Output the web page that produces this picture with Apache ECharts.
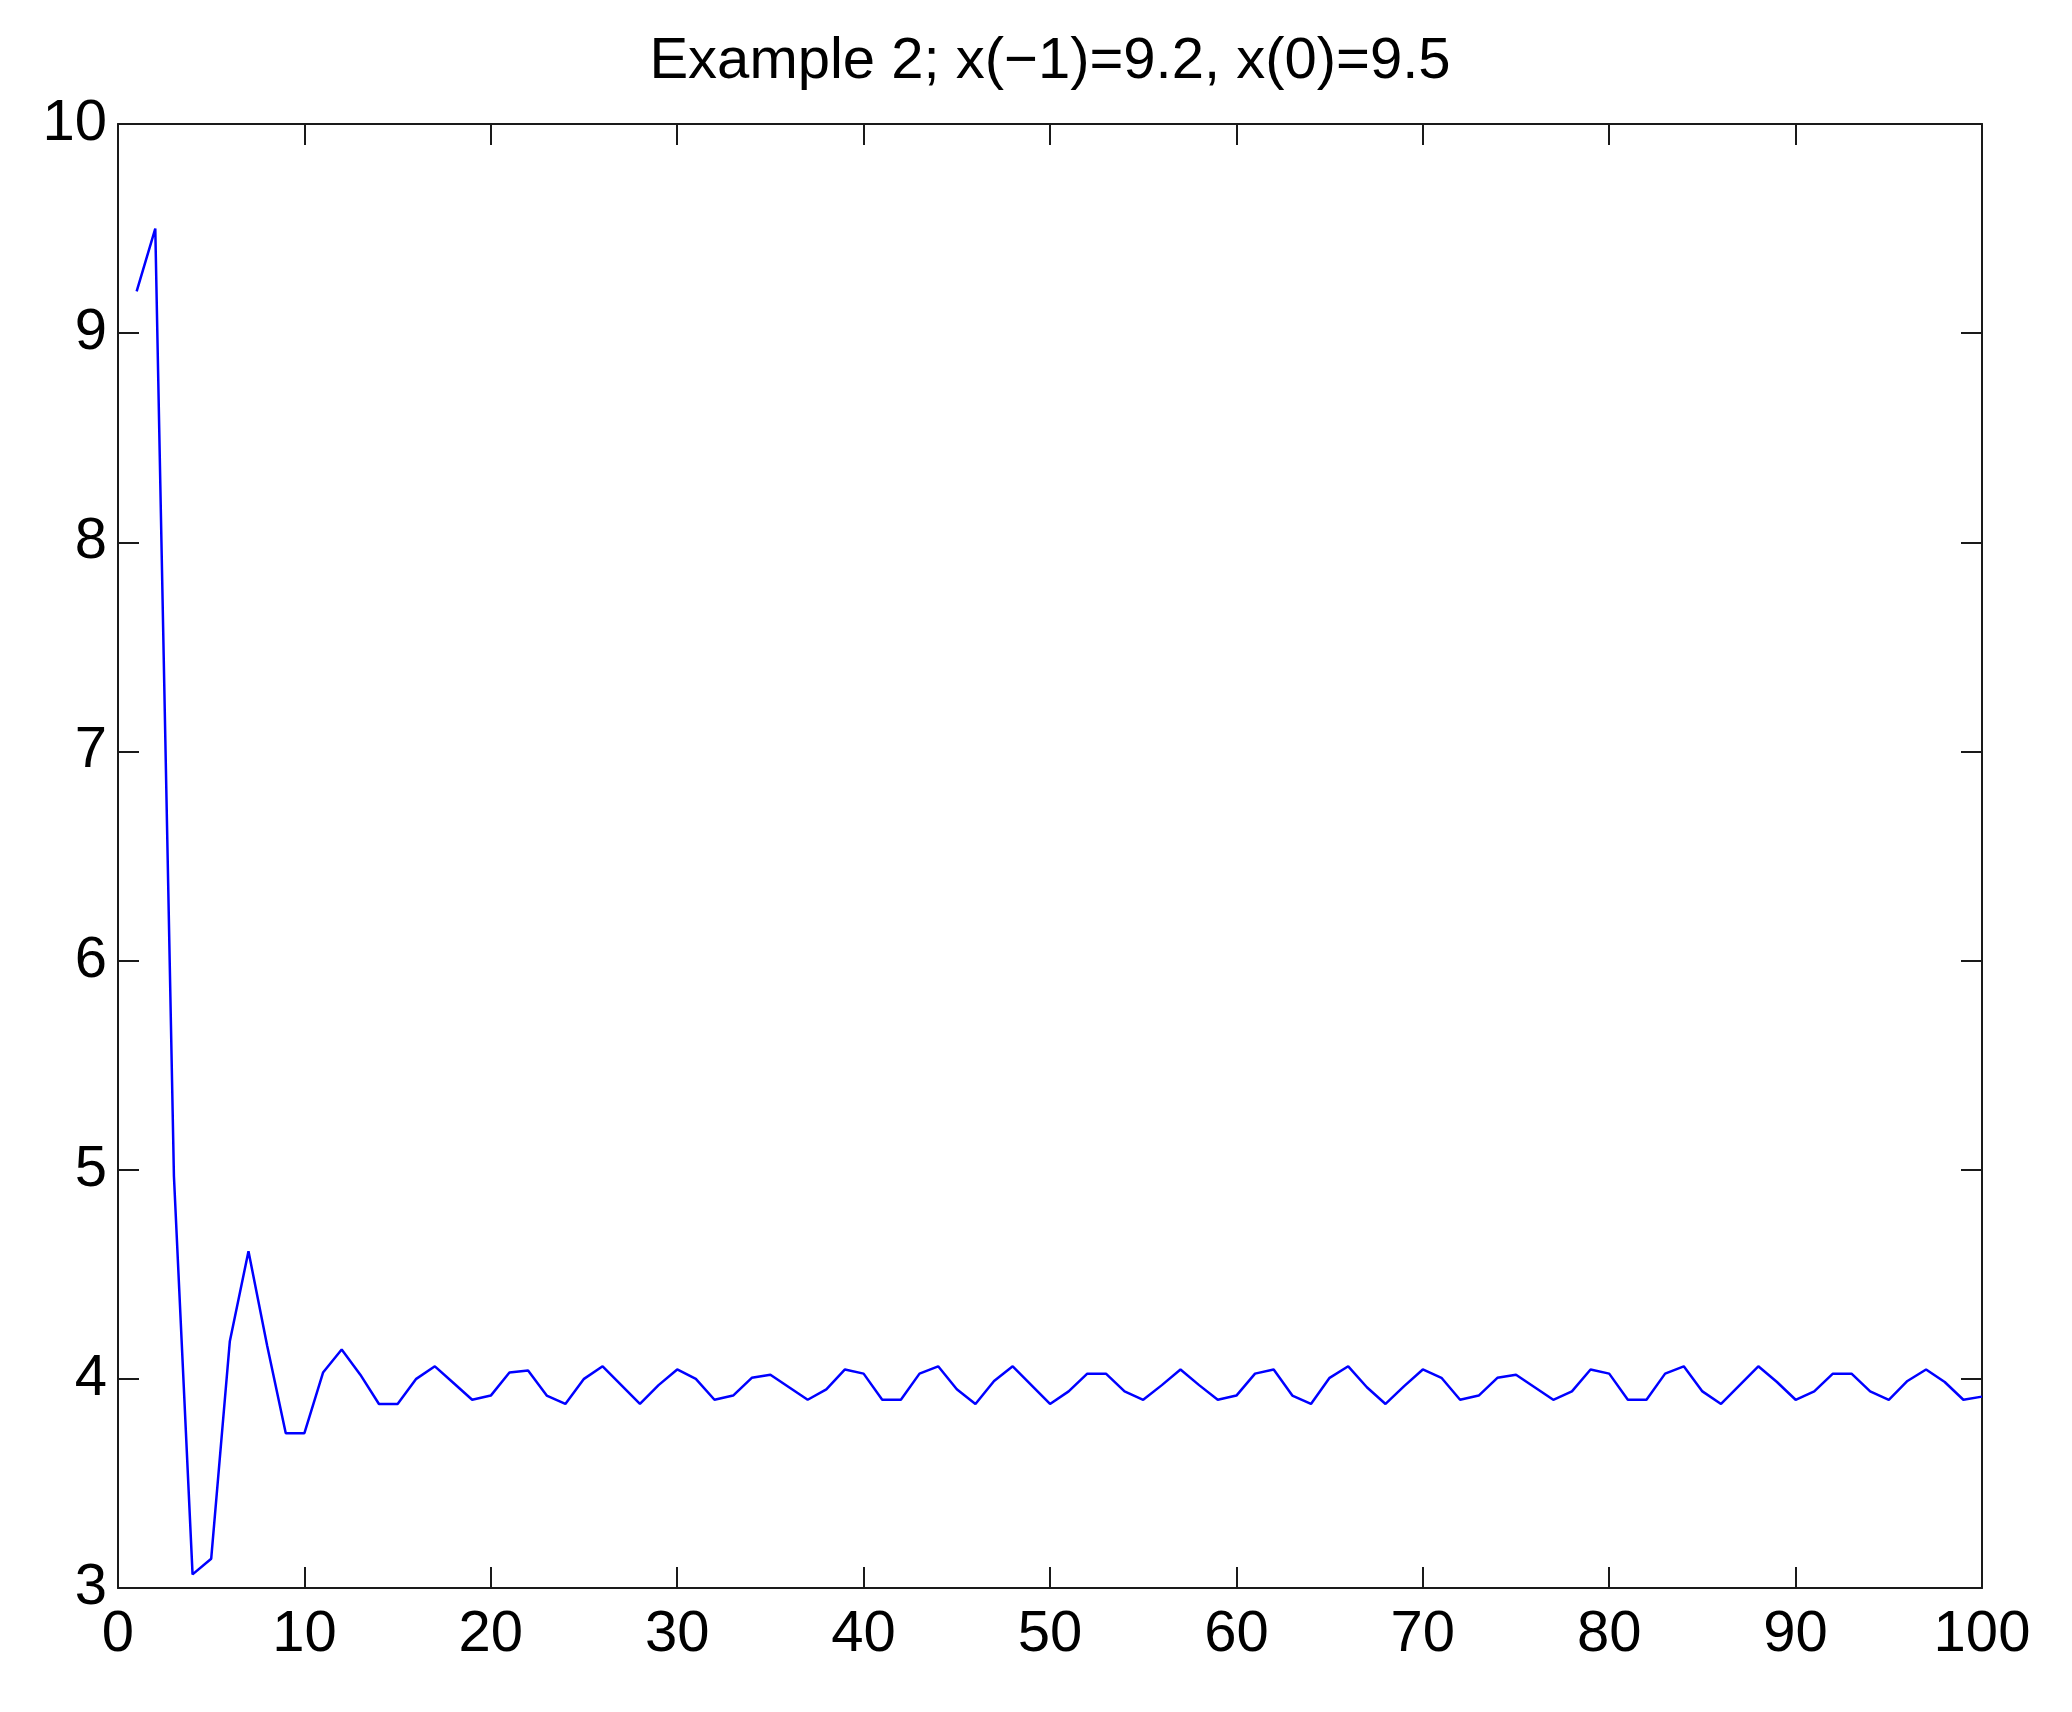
<!DOCTYPE html>
<html>
<head>
<meta charset="utf-8">
<script src="https://cdn.jsdelivr.net/npm/echarts@6/dist/echarts.min.js"></script>
<style>
  html, body { margin: 0; padding: 0; background: #ffffff; }
  #chart { width: 2072px; height: 1712px; }
</style>
</head>
<body>
<div id="chart"></div>
<script>
// ---- data ----
const chartTitle = 'Example 2; x(\u22121)=9.2, x(0)=9.5';
const steps = [1,2,3,4,5,6,7,8,9,10,11,12,13,14,15,16,17,18,19,20,
  21,22,23,24,25,26,27,28,29,30,31,32,33,34,35,36,37,38,39,40,
  41,42,43,44,45,46,47,48,49,50,51,52,53,54,55,56,57,58,59,60,
  61,62,63,64,65,66,67,68,69,70,71,72,73,74,75,76,77,78,79,80,
  81,82,83,84,85,86,87,88,89,90,91,92,93,94,95,96,97,98,99,100];
const values = [9.2, 9.5, 4.97, 3.065, 3.14, 4.18, 4.61, 4.16, 3.74, 3.74,
  4.03, 4.14, 4.02, 3.88, 3.88, 4.00, 4.06, 3.98, 3.90, 3.92,
  4.03, 4.04, 3.92, 3.88, 4.00, 4.06, 3.97, 3.88, 3.97, 4.045,
  4.00, 3.90, 3.92, 4.005, 4.02, 3.96, 3.90, 3.95, 4.045, 4.025,
  3.90, 3.90, 4.025, 4.06, 3.95, 3.88, 3.99, 4.06, 3.97, 3.88,
  3.94, 4.025, 4.025, 3.94, 3.90, 3.97, 4.045, 3.97, 3.90, 3.92,
  4.025, 4.045, 3.92, 3.88, 4.005, 4.06, 3.96, 3.88, 3.965, 4.045,
  4.005, 3.90, 3.92, 4.005, 4.02, 3.96, 3.90, 3.94, 4.045, 4.025,
  3.90, 3.90, 4.025, 4.06, 3.94, 3.88, 3.97, 4.06, 3.985, 3.90,
  3.94, 4.025, 4.025, 3.94, 3.90, 3.99, 4.045, 3.985, 3.90, 3.915];
const xMin = 0, xMax = 100, xStep = 10;
const yMin = 3, yMax = 10, yStep = 1;

// ---- chart ----
const FONT = "'Liberation Sans Narrow', 'Arial Narrow', 'Liberation Sans', Arial, sans-serif";
const AXIS_COLOR = '#1a1a1a';
const seriesData = steps.map((s, i) => [s, values[i]]);

function axisBase(extra) {
  return Object.assign({
    type: 'value',
    axisLine: { show: true, onZero: false, lineStyle: { color: AXIS_COLOR, width: 2 } },
    axisTick: { show: true, inside: true, length: 21, lineStyle: { color: AXIS_COLOR, width: 2 } },
    splitLine: { show: false },
  }, extra);
}

const chart = echarts.init(document.getElementById('chart'), null, { renderer: 'canvas' });
chart.setOption({
  backgroundColor: '#ffffff',
  animation: false,
  title: {
    text: chartTitle,
    left: 1050,
    top: 33,
    padding: 0,
    textAlign: 'center',
    textStyle: { fontFamily: FONT, fontSize: 58, fontWeight: 'normal', color: '#000', lineHeight: 58 }
  },
  grid: { left: 118, right: 90, top: 124, bottom: 124, containLabel: false },
  xAxis: [
    axisBase({
      position: 'bottom', min: xMin, max: xMax, interval: xStep,
      axisLabel: { show: true, margin: 18, fontFamily: FONT, fontSize: 58, color: '#000', lineHeight: 58 }
    }),
    axisBase({
      position: 'top', min: xMin, max: xMax, interval: xStep,
      axisLabel: { show: false }
    })
  ],
  yAxis: [
    axisBase({
      position: 'left', min: yMin, max: yMax, interval: yStep,
      axisLabel: { show: true, margin: 11, fontFamily: FONT, fontSize: 58, color: '#000' }
    }),
    axisBase({
      position: 'right', min: yMin, max: yMax, interval: yStep,
      axisLabel: { show: false }
    })
  ],
  series: [{
    type: 'line',
    xAxisIndex: 0,
    yAxisIndex: 0,
    data: seriesData,
    showSymbol: false,
    symbol: 'none',
    lineStyle: { color: '#0000ff', width: 2.5 },
    clip: true
  }]
});
</script>
</body>
</html>
